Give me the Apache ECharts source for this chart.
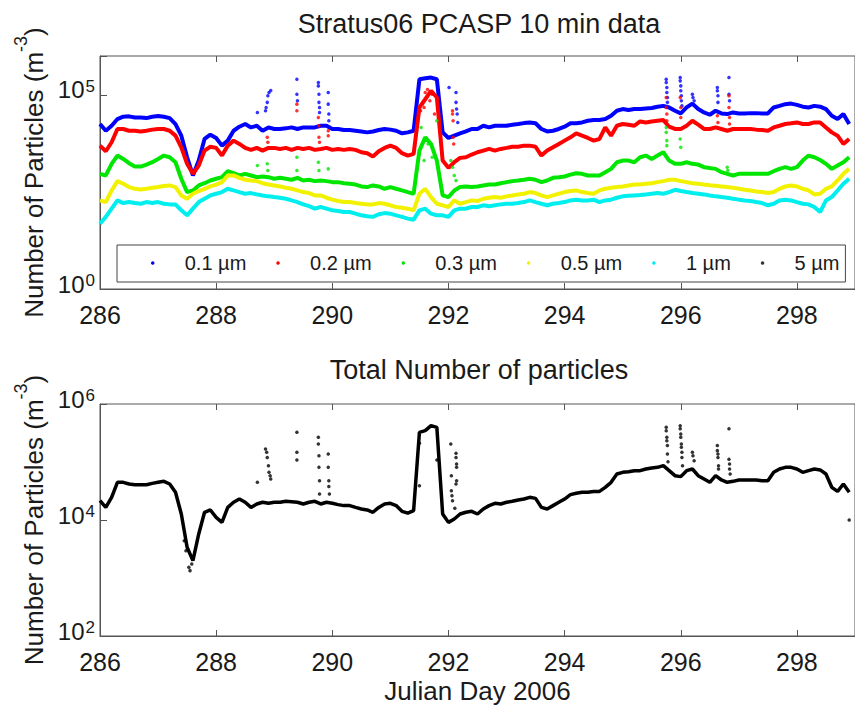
<!DOCTYPE html>
<html><head><meta charset="utf-8">
<script src="https://cdn.jsdelivr.net/npm/echarts@6/dist/echarts.min.js"></script>
<style>html,body{margin:0;padding:0;background:#fff}#c{width:855px;height:711px}</style>
</head><body><div id="c"></div>
<script>
// ---------- DATA (0.1-day grid) ----------
const days = [
286.0,286.1,286.2,286.3,286.4,286.5,286.6,286.7,286.8,286.9,
287.0,287.1,287.2,287.3,287.4,287.5,287.6,287.7,287.8,287.9,
288.0,288.1,288.2,288.3,288.4,288.5,288.6,288.7,288.8,288.9,
289.0,289.1,289.2,289.3,289.4,289.5,289.6,289.7,289.8,289.9,
290.0,290.1,290.2,290.3,290.4,290.5,290.6,290.7,290.8,290.9,
291.0,291.1,291.2,291.3,291.4,291.5,291.6,291.7,291.8,291.9,
292.0,292.1,292.2,292.3,292.4,292.5,292.6,292.7,292.8,292.9,
293.0,293.1,293.2,293.3,293.4,293.5,293.6,293.7,293.8,293.9,
294.0,294.1,294.2,294.3,294.4,294.5,294.6,294.7,294.8,294.9,
295.0,295.1,295.2,295.3,295.4,295.5,295.6,295.7,295.8,295.9,
296.0,296.1,296.2,296.3,296.4,296.5,296.6,296.7,296.8,296.9,
297.0,297.1,297.2,297.3,297.4,297.5,297.6,297.7,297.8,297.9,
298.0,298.1,298.2,298.3,298.4,298.5,298.6,298.7,298.8,298.9];

const blue01 = [
1.77e4,1.19e4,1.60e4,2.38e4,2.73e4,2.79e4,2.62e4,2.62e4,2.52e4,2.73e4,
2.84e4,2.73e4,2.52e4,1.77e4,8.89e3,2.47e3,838,2.03e3,7.30e3,9.4e3,
7.75e3,4.92e3,6.62e3,1.19e4,1.51e4,1.77e4,1.45e4,1.60e4,1.19e4,1.45e4,
1.32e4,1.32e4,1.37e4,1.45e4,1.32e4,1.45e4,1.45e4,1.45e4,1.60e4,1.60e4,
1.32e4,1.32e4,1.24e4,1.24e4,1.19e4,1.14e4,1.08e4,1.14e4,1.24e4,1.32e4,
1.27e4,1.19e4,1.02e4,1.08e4,1.19e4,2.52e5,2.67e5,2.78e5,2.52e5,1.08e4,
7.75e3,8.89e3,1.02e4,1.14e4,1.32e4,1.32e4,1.60e4,1.45e4,1.60e4,1.60e4,
1.60e4,1.70e4,1.77e4,1.87e4,1.95e4,1.85e4,1.32e4,1.14e4,1.19e4,1.32e4,
1.51e4,1.85e4,1.85e4,1.95e4,2.15e4,2.24e4,2.24e4,2.38e4,2.90e4,3.89e4,
4.3e4,4.05e4,4.3e4,4.3e4,4.47e4,4.6e4,4.95e4,5.2e4,4.73e4,3.89e4,
3.32e4,4.73e4,5.95e4,4.3e4,3.52e4,3.07e4,3.89e4,3.32e4,3.19e4,3.52e4,
3.32e4,3.32e4,3.38e4,3.38e4,3.32e4,3.32e4,4.73e4,5.2e4,5.76e4,5.95e4,
5.5e4,4.95e4,4.73e4,5.2e4,4.95e4,4.3e4,2.90e4,2.38e4,3.19e4,1.77e4];

const red02 = [
4.92e3,3.52e3,6.00e3,1.32e4,1.32e4,1.19e4,1.19e4,1.14e4,1.19e4,1.27e4,
1.32e4,1.32e4,1.19e4,8.89e3,4.46e3,1.67e3,925,1.51e3,3.67e3,4.6e3,
4.3e3,2.73e3,4.92e3,6.62e3,5.43e3,4.3e3,3.82e3,4.3e3,3.67e3,4.3e3,
4.3e3,4.05e3,4.3e3,3.82e3,4.3e3,4.05e3,4.3e3,3.82e3,4.05e3,4.3e3,
3.82e3,4.05e3,3.82e3,4.05e3,3.82e3,3.32e3,3.14e3,2.57e3,3.52e3,4.3e3,
4.92e3,4.3e3,3.14e3,2.73e3,3.01e3,4.73e4,7.7e4,1.27e5,8.55e4,2.03e3,
1.32e3,1.84e3,2.38e3,2.47e3,2.9e3,3.32e3,3.67e3,4.05e3,3.67e3,4.05e3,
4.3e3,4.6e3,4.6e3,4.92e3,4.92e3,4.6e3,2.73e3,3.67e3,4.46e3,5.43e3,
6.62e3,8.05e3,1.02e4,8.89e3,7.75e3,6.62e3,7.30e3,1.45e4,8.89e3,1.60e4,
1.77e4,1.70e4,1.60e4,2.06e4,1.95e4,2.06e4,2.15e4,2.24e4,1.51e4,1.32e4,
1.32e4,1.60e4,2.15e4,1.70e4,1.32e4,1.32e4,1.45e4,1.32e4,1.19e4,1.32e4,
1.32e4,1.32e4,1.32e4,1.27e4,1.24e4,1.19e4,1.45e4,1.60e4,1.77e4,1.85e4,
1.95e4,1.77e4,1.77e4,1.95e4,1.95e4,1.45e4,1.08e4,8.89e3,5.43e3,7.30e3];

const green03 = [
925,838,1.67e3,2.73e3,2.24e3,1.74e3,1.42e3,1.42e3,1.60e3,1.84e3,
2.24e3,2.73e3,2.47e3,1.84e3,689,313,345,464,530,624,
689,759,1.08e3,960,838,925,838,759,790,759,
689,730,689,650,730,624,650,600,624,600,
565,565,530,512,490,438,421,464,438,381,
421,381,345,313,284,3.67e3,8.05e3,5.43e3,2.03e3,257,
233,345,421,438,421,438,464,490,490,530,
565,600,624,650,689,650,565,624,730,759,
790,880,960,925,838,838,838,1.02e3,1.24e3,1.84e3,
2.03e3,2.03e3,1.84e3,2.47e3,2.73e3,2.24e3,2.73e3,3.32e3,2.03e3,1.67e3,
1.67e3,1.84e3,1.67e3,1.60e3,1.37e3,1.30e3,1.24e3,1.02e3,925,838,
925,925,925,925,925,925,1.08e3,1.24e3,1.37e3,1.24e3,
1.37e3,2.03e3,2.73e3,2.47e3,2.1e3,1.67e3,1.24e3,1.51e3,1.84e3,2.47e3];

const yellow05 = [
191,173,345,600,512,421,381,365,381,405,
421,448,464,421,257,211,284,333,381,438,
490,565,838,838,730,650,624,600,530,490,
464,438,405,381,345,313,295,257,257,224,
200,184,173,173,163,157,151,151,163,157,
143,129,124,117,106,284,381,233,157,143,
129,191,157,173,191,184,211,224,233,224,
243,257,273,284,313,295,257,233,257,284,
313,333,345,313,295,284,345,381,405,421,
438,464,490,490,512,530,565,600,650,650,
600,565,530,512,490,472,455,438,421,405,
381,358,345,325,313,295,313,381,438,464,
438,381,345,273,284,381,438,624,925,1.24e3];

const cyan1 = [
48,72,117,191,163,173,163,157,173,163,
173,157,151,151,106,79,117,173,211,257,
284,313,381,345,313,284,295,273,257,243,
233,224,211,191,173,151,136,117,129,117,
106,102,96,96,87,79,75,72,84,90,
87,79,72,65,61,106,117,87,79,79,
72,106,117,117,129,129,143,136,143,151,
157,157,163,173,191,173,157,143,157,163,
173,191,200,191,191,200,173,191,200,224,
243,252,257,262,273,284,295,284,313,358,
333,313,295,284,273,257,243,233,224,211,
200,191,184,173,163,143,157,191,200,191,
173,157,151,129,96,191,233,345,512,689];

const um5 = []; // no 5 µm points fall inside the plotted range

const totalN = [
2.15e4,1.65e4,2.46e4,4.46e4,4.46e4,4.17e4,4.06e4,4.06e4,4.06e4,4.28e4,
4.46e4,4.64e4,4.17e4,3.00e4,1.27e4,3.38e3,1.99e3,5.74e3,1.36e4,1.49e4,
1.11e4,9.1e3,1.65e4,2.02e4,2.30e4,2.02e4,1.65e4,1.89e4,2.02e4,1.94e4,
2.02e4,2.02e4,2.10e4,2.07e4,2.02e4,1.89e4,2.02e4,2.10e4,1.89e4,2.02e4,
1.94e4,1.84e4,1.77e4,1.77e4,1.65e4,1.55e4,1.49e4,1.36e4,1.65e4,1.89e4,
1.94e4,1.77e4,1.41e4,1.31e4,1.45e4,3.25e5,3.47e5,4.23e5,3.96e5,1.27e4,
9.1e3,1.04e4,1.27e4,1.36e4,1.41e4,1.27e4,1.55e4,1.77e4,1.94e4,1.89e4,
2.02e4,2.10e4,2.21e4,2.30e4,2.46e4,2.36e4,1.65e4,1.55e4,1.77e4,2.02e4,
2.30e4,2.74e4,2.89e4,3.00e4,3.00e4,3.11e4,3.11e4,3.66e4,4.46e4,6.21e4,
6.63e4,6.8e4,7.09e4,7.09e4,7.57e4,7.9e4,8.09e4,8.65e4,7.09e4,5.81e4,
5.6e4,7.09e4,7.57e4,5.81e4,5.09e4,4.46e4,5.81e4,4.9e4,4.46e4,4.64e4,
4.9e4,4.9e4,4.9e4,4.9e4,4.76e4,4.76e4,6.63e4,7.57e4,8.09e4,8.09e4,
7.57e4,6.63e4,7.09e4,7.57e4,7.3e4,6.21e4,3.66e4,3.11e4,4.17e4,3.00e4];

// isolated excursions (day, value)
const blueSpikes = [[288.71,3.52e4],[288.85,3.89e4],[288.86,4.73e4],[288.88,6.4e4],[288.89,9.5e4],[288.91,1.15e5],[288.94,1.3e5],[289.39,2.52e5],[289.39,1.04e5],[289.40,7.02e4],[289.76,2.09e5],[289.76,1.7e5],[289.77,1.04e5],[289.77,6.4e4],[289.78,4.73e4],[289.78,3.52e4],[289.93,1.15e5],[289.93,5.76e4],[289.94,3.19e4],[289.94,2.15e4],[292.01,1.54e5],[292.13,1.15e5],[292.13,6.4e4],[292.14,4.3e4],[292.15,3.19e4],[292.16,1.95e4],[295.75,2.52e5],[295.75,2.09e5],[295.76,1.54e5],[295.76,1.15e5],[295.77,8.55e4],[295.77,6.4e4],[295.99,2.78e5],[295.99,2.29e5],[296.00,1.7e5],[296.00,1.27e5],[296.01,9.5e4],[296.01,7.02e4],[296.02,5.2e4],[296.20,1.04e5],[296.21,8.55e4],[296.23,7.02e4],[296.63,1.54e5],[296.63,1.27e5],[296.64,9.5e4],[296.64,6.4e4],[296.83,2.78e5],[296.83,1.04e5],[296.84,7.02e4]];
const redSpikes = [[288.88,8.05e3],[288.89,6.0e3],[289.39,5.76e4],[289.39,3.89e4],[289.76,2.62e4],[289.77,1.6e4],[289.77,8.05e3],[289.78,6.0e3],[289.93,1.19e4],[289.93,8.89e3],[291.52,3.89e4],[291.55,5.76e4],[291.58,4.73e4],[291.60,1.15e5],[291.64,1.37e5],[291.68,7.02e4],[291.72,1.04e5],[291.76,3.19e4],[292.07,3.89e4],[292.07,3.19e4],[292.08,2.15e4],[292.08,8.05e3],[292.09,5.43e3],[295.75,8.55e4],[295.75,4.73e4],[295.76,3.19e4],[295.76,2.15e4],[295.99,8.55e4],[296.00,4.73e4],[296.00,2.62e4],[296.63,2.9e4],[296.64,1.95e4],[296.83,9.5e4],[296.83,4.73e4],[296.84,2.62e4],[296.84,1.77e4]];
const greenSpikes = [[288.71,1.51e3],[288.88,1.67e3],[288.89,1.13e3],[289.39,2.47e3],[289.39,1.13e3],[289.76,1.84e3],[289.77,1.13e3],[289.93,1.24e3],[291.50,3.0e3],[291.53,1.45e4],[291.58,2.03e3],[291.65,5.43e3],[291.72,2.47e3],[291.80,2.15e4],[292.04,2.03e3],[292.07,1.37e3],[292.10,838],[292.13,624],[295.75,1.45e4],[295.75,1.08e4],[295.76,6.62e3],[295.76,4.92e3],[295.99,7.3e3],[296.00,4.46e3],[296.80,1.37e3],[296.81,1.13e3]];
const totalSpikes = [[287.45,4.4e3],[287.48,2.96e3],[287.53,1.53e3],[287.55,1.34e3],[287.58,1.74e3],[288.71,4.46e4],[288.85,1.68e5],[288.87,1.47e5],[288.88,1.2e5],[288.90,8.65e4],[288.91,6.63e4],[288.93,5.81e4],[288.94,5.09e4],[289.39,3.25e5],[289.39,1.47e5],[289.39,1.08e5],[289.76,2.66e5],[289.76,2.04e5],[289.77,1.28e5],[289.77,8.09e4],[289.78,4.76e4],[289.78,2.81e4],[289.93,1.37e5],[289.93,8.09e4],[289.94,4.76e4],[289.94,3.78e4],[289.95,2.81e4],[291.50,3.91e4],[291.50,2.1e5],[291.80,1.08e5],[292.04,2.04e5],[292.13,1.41e5],[292.13,1.2e5],[292.14,9.24e4],[292.14,8.09e4],[292.05,5.81e4],[292.14,4.76e4],[292.13,4.17e4],[292.05,3.2e4],[292.06,2.63e4],[292.07,2.15e4],[292.11,1.6e4],[295.75,3.96e5],[295.75,3.47e5],[295.76,2.66e5],[295.76,2.33e5],[295.77,1.92e5],[295.77,1.37e5],[295.78,1.01e5],[295.99,4.23e5],[295.99,3.73e5],[296.00,3.04e5],[296.00,2.66e5],[296.01,2.04e5],[296.01,1.79e5],[296.02,1.47e5],[296.02,1.2e5],[296.03,8.65e4],[296.20,1.47e5],[296.21,1.28e5],[296.23,1.05e5],[296.63,1.92e5],[296.63,1.57e5],[296.64,1.37e5],[296.64,1.2e5],[296.65,8.65e4],[296.65,7.57e4],[296.83,3.73e5],[296.83,1.12e5],[296.84,9.24e4],[296.84,7.57e4],[296.85,6.21e4],[298.9,1.0e4]];

const xTicks = [286,288,290,292,294,296,298];
const topYTicks = [1,1e5,1e6], topYLabels = [1,1e5];
const botYTicks = [1e2,1e4,1e6], botYLabels = [1e2,1e4,1e6];
const sizeNames = ['0.1 µm','0.2 µm','0.3 µm','0.5 µm','1 µm','5 µm'];

// ---------- CHART ----------
const FONT = '"Liberation Sans", Arial, Helvetica, sans-serif';
const AX = '#555', TXT = '#1a1a1a';
const COLORS = ['#0000ff','#ff0000','#00e600','#f2f200','#00eeee','#000000'];
const pair = arr => days.map((d, i) => [d, arr[i]]);

function xBottom(gi, extra) {
  return Object.assign({
    type: 'value', gridIndex: gi, min: 286, max: 299, position: 'bottom',
    axisLine: { show: true, lineStyle: { color: AX, width: 1 } },
    axisTick: { show: true, inside: true, length: 6, customValues: xTicks, lineStyle: { color: AX } },
    axisLabel: { show: true, customValues: xTicks, margin: 13, fontSize: 25, fontFamily: FONT, color: TXT },
    splitLine: { show: false }
  }, extra || {});
}
function xTop(gi) {
  return {
    type: 'value', gridIndex: gi, min: 286, max: 299, position: 'top',
    axisLine: { show: false },
    axisTick: { show: true, inside: true, length: 6, customValues: xTicks, lineStyle: { color: AX } },
    axisLabel: { show: false }, splitLine: { show: false }
  };
}
const nameRich = {
  a: { fontSize: 26, fontFamily: FONT, color: TXT, verticalAlign: 'bottom', lineHeight: 27 },
  s: { fontSize: 18, fontFamily: FONT, color: TXT, verticalAlign: 'bottom', lineHeight: 18, padding: [0, 0, 17, 0] }
};
function yAx(gi, min, max, ticks, labels) {
  return {
    type: 'log', logBase: 10, gridIndex: gi, min: min, max: max,
    axisLine: { show: true, lineStyle: { color: AX } },
    axisTick: { show: true, inside: true, length: 7, customValues: ticks, lineStyle: { color: AX } },
    axisLabel: {
      customValues: labels, margin: 5, padding: [0, 0, 10, 0],
      formatter: v => '{b|10}{s|' + Math.round(Math.log10(v)) + '}',
      rich: {
        b: { fontSize: 24, fontFamily: FONT, color: TXT, lineHeight: 24, padding: [15, 0, 0, 0], verticalAlign: 'bottom' },
        s: { fontSize: 17, fontFamily: FONT, color: TXT, lineHeight: 17, padding: [0, 0, 0, 1], verticalAlign: 'top' }
      }
    },
    splitLine: { show: false },
    name: '{a|Number of Particles (m}{s|-3}{a|)}',
    nameLocation: 'middle', nameRotate: 90, nameGap: 53,
    nameTextStyle: { rich: nameRich }
  };
}

const bandSeries = [blue01, red02, green03, yellow05, cyan1].map((arr, i) => ({
  name: sizeNames[i], type: 'line', xAxisIndex: 0, yAxisIndex: 0,
  data: pair(arr), showSymbol: false, symbol: 'none', z: 2 + i,
  lineStyle: { color: COLORS[i], width: 4 }, itemStyle: { color: COLORS[i] }
}));
const spikeSeries = [blueSpikes, redSpikes, greenSpikes].map((arr, i) => ({
  name: sizeNames[i], type: 'scatter', xAxisIndex: 0, yAxisIndex: 0,
  data: arr, symbolSize: 3.5, z: 2 + i, itemStyle: { color: COLORS[i] }
}));

const option = {
  animation: false,
  backgroundColor: '#fff',
  title: [
    { text: 'Stratus06 PCASP 10 min data', left: 479, top: 10, textAlign: 'center', padding: 0,
      textStyle: { fontSize: 27, fontWeight: 'normal', fontFamily: FONT, color: TXT } },
    { text: 'Total Number of particles', left: 479, top: 356, textAlign: 'center', padding: 0,
      textStyle: { fontSize: 27, fontWeight: 'normal', fontFamily: FONT, color: TXT } }
  ],
  grid: [
    { left: 100, right: -5, top: 56, bottom: 422, show: true, borderColor: AX, borderWidth: 1, backgroundColor: 'transparent' },
    { left: 100, right: -5, top: 404, bottom: 75, show: true, borderColor: AX, borderWidth: 1, backgroundColor: 'transparent' }
  ],
  xAxis: [
    xBottom(0), xTop(0),
    xBottom(1, { name: 'Julian Day 2006', nameLocation: 'middle', nameGap: 42,
      nameTextStyle: { fontSize: 26, fontFamily: FONT, color: TXT } }),
    xTop(1)
  ],
  yAxis: [ yAx(0, 1, 1e6, topYTicks, topYLabels), yAx(1, 1e2, 1e6, botYTicks, botYLabels) ],
  legend: {
    data: sizeNames.map(n => ({ name: n, icon: 'circle' })),
    left: 117, top: 245, width: 820, orient: 'horizontal',
    itemWidth: 54, itemHeight: 3.5, itemGap: 30, symbolKeepAspect: true,
    padding: [8, 6, 9, 34], borderColor: '#444', borderWidth: 1, borderRadius: 0,
    backgroundColor: '#fff', selectedMode: false,
    textStyle: { fontSize: 20, fontFamily: FONT, color: TXT, lineHeight: 20 }
  },
  series: bandSeries.concat(spikeSeries).concat([
    { name: sizeNames[5], type: 'scatter', xAxisIndex: 0, yAxisIndex: 0, data: um5, symbolSize: 3.5, itemStyle: { color: COLORS[5] } },
    { name: 'Total', type: 'line', xAxisIndex: 2, yAxisIndex: 1, data: pair(totalN), showSymbol: false, symbol: 'none',
      lineStyle: { color: '#000', width: 3.5 }, itemStyle: { color: '#000' } },
    { name: 'Total', type: 'scatter', xAxisIndex: 2, yAxisIndex: 1, data: totalSpikes, symbolSize: 3.5, itemStyle: { color: '#000' } }
  ])
};
const chart = echarts.init(document.getElementById('c'), null, { renderer: 'svg' });
chart.setOption(option);
</script>
</body></html>
